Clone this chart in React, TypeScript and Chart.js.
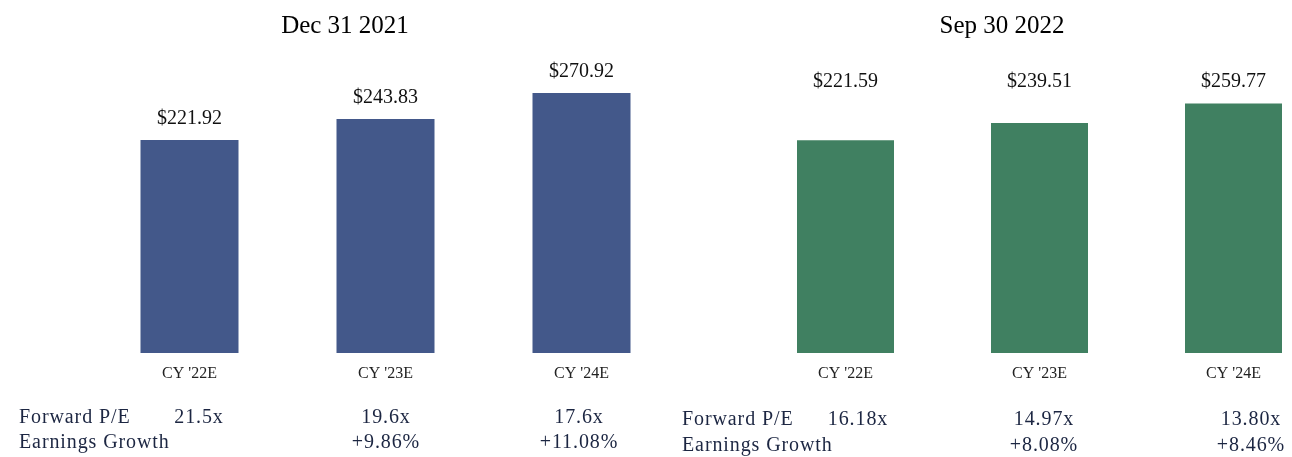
import React, { useEffect, useRef } from "react";
import { Chart, registerables } from "chart.js";

Chart.register(...registerables);

// ---- data ----
const categories = ["CY '22E", "CY '23E", "CY '24E"];
const dec2021Eps = [221.92, 243.83, 270.92];
const sep2022Eps = [221.59, 239.51, 259.77];
const dec2021PE = ["21.5x", "19.6x", "17.6x"];
const dec2021Growth = ["", "+9.86%", "+11.08%"];
const sep2022PE = ["16.18x", "14.97x", "13.80x"];
const sep2022Growth = ["", "+8.08%", "+8.46%"];
const rowLabels = ["Forward P/E", "Earnings Growth"];
const titles = ["Dec 31 2021", "Sep 30 2022"];

const SERIF = "'Liberation Serif', 'Times New Roman', serif";

type PanelCfg = {
  title: string;
  values: number[];
  pe: string[];
  growth: string[];
  left: number;
  width: number;
  padding: { left: number; right: number; top: number; bottom: number };
  color: string;
  titleX: number;
  labelMode: "above" | "top";
  labelY?: number;
  rowLabelX: number;
  colX: number[];
  rowY: number[];
};

const panels: PanelCfg[] = [
  {
    title: titles[0],
    values: dec2021Eps,
    pe: dec2021PE,
    growth: dec2021Growth,
    left: 0,
    width: 680,
    padding: { left: 91.5, right: 0.5, top: 65, bottom: 64 },
    color: "#43588a",
    titleX: 345,
    labelMode: "above",
    rowLabelX: 19,
    colX: [199, 386, 579],
    rowY: [418, 443],
  },
  {
    title: titles[1],
    values: sep2022Eps,
    pe: sep2022PE,
    growth: sep2022Growth,
    left: 680,
    width: 660,
    padding: { left: 68.5, right: 9.5, top: 65, bottom: 64 },
    color: "#408061",
    titleX: 322,
    labelMode: "top",
    labelY: 82,
    rowLabelX: 2,
    colX: [178, 364, 571],
    rowY: [420, 446],
  },
];

function makeTextPlugin(cfg: PanelCfg) {
  return {
    id: "panelText",
    afterDraw(chart: any) {
      const ctx = chart.ctx as CanvasRenderingContext2D;
      ctx.save();
      // title
      ctx.fillStyle = "#000";
      ctx.font = `25px ${SERIF}`;
      ctx.textAlign = "center";
      ctx.textBaseline = "middle";
      ctx.fillText(cfg.title, cfg.titleX, 26);

      // value labels
      const meta = chart.getDatasetMeta(0);
      ctx.font = `20px ${SERIF}`;
      ctx.fillStyle = "#111";
      meta.data.forEach((el: any, i: number) => {
        const v = cfg.values[i];
        const y = cfg.labelMode === "above" ? el.y - 21 : (cfg.labelY as number);
        ctx.fillText("$" + v.toFixed(2), el.x, y);
      });

      // table rows
      ctx.fillStyle = "#1c2642";
      ctx.font = `20px ${SERIF}`;
      try {
        (ctx as any).letterSpacing = "0.9px";
      } catch (e) {}
      const rows = [cfg.pe, cfg.growth];
      rows.forEach((row, r) => {
        ctx.textAlign = "left";
        ctx.fillText(rowLabels[r], cfg.rowLabelX, cfg.rowY[r]);
        ctx.textAlign = "center";
        row.forEach((txt, c) => {
          if (txt) ctx.fillText(txt, cfg.colX[c], cfg.rowY[r]);
        });
      });
      ctx.restore();
    },
  };
}

function Panel({ cfg }: { cfg: PanelCfg }) {
  const ref = useRef<HTMLCanvasElement | null>(null);
  useEffect(() => {
    if (!ref.current) return;
    const chart = new Chart(ref.current, {
      type: "bar",
      data: {
        labels: categories,
        datasets: [
          {
            data: cfg.values,
            backgroundColor: cfg.color,
            borderWidth: 0,
            barPercentage: 0.5,
            categoryPercentage: 1,
          },
        ],
      },
      options: {
        responsive: false,
        animation: false,
        devicePixelRatio: 1,
        layout: { padding: cfg.padding },
        plugins: {
          legend: { display: false },
          tooltip: { enabled: false },
          title: { display: false },
        },
        scales: {
          x: {
            grid: { display: false, drawTicks: false },
            border: { display: false },
            ticks: {
              color: "#222",
              font: { family: SERIF, size: 16 },
              padding: 11,
            },
            afterFit: (s: any) => {
              s.height = 40;
            },
          },
          y: { display: false, min: 0, max: 300 },
        },
      },
      plugins: [makeTextPlugin(cfg)],
    } as any);
    return () => chart.destroy();
  }, [cfg]);
  return (
    <canvas
      ref={ref}
      width={cfg.width}
      height={457}
      style={{ position: "absolute", left: cfg.left, top: 0, width: cfg.width, height: 457 }}
    />
  );
}

export default function App() {
  useEffect(() => {
    document.body.style.margin = "0";
    document.body.style.overflow = "hidden";
  }, []);
  return (
    <div
      style={{
        position: "relative",
        width: 1292,
        height: 457,
        overflow: "hidden",
        background: "#fff",
      }}
    >
      {panels.map((p, i) => (
        <Panel key={i} cfg={p} />
      ))}
    </div>
  );
}
